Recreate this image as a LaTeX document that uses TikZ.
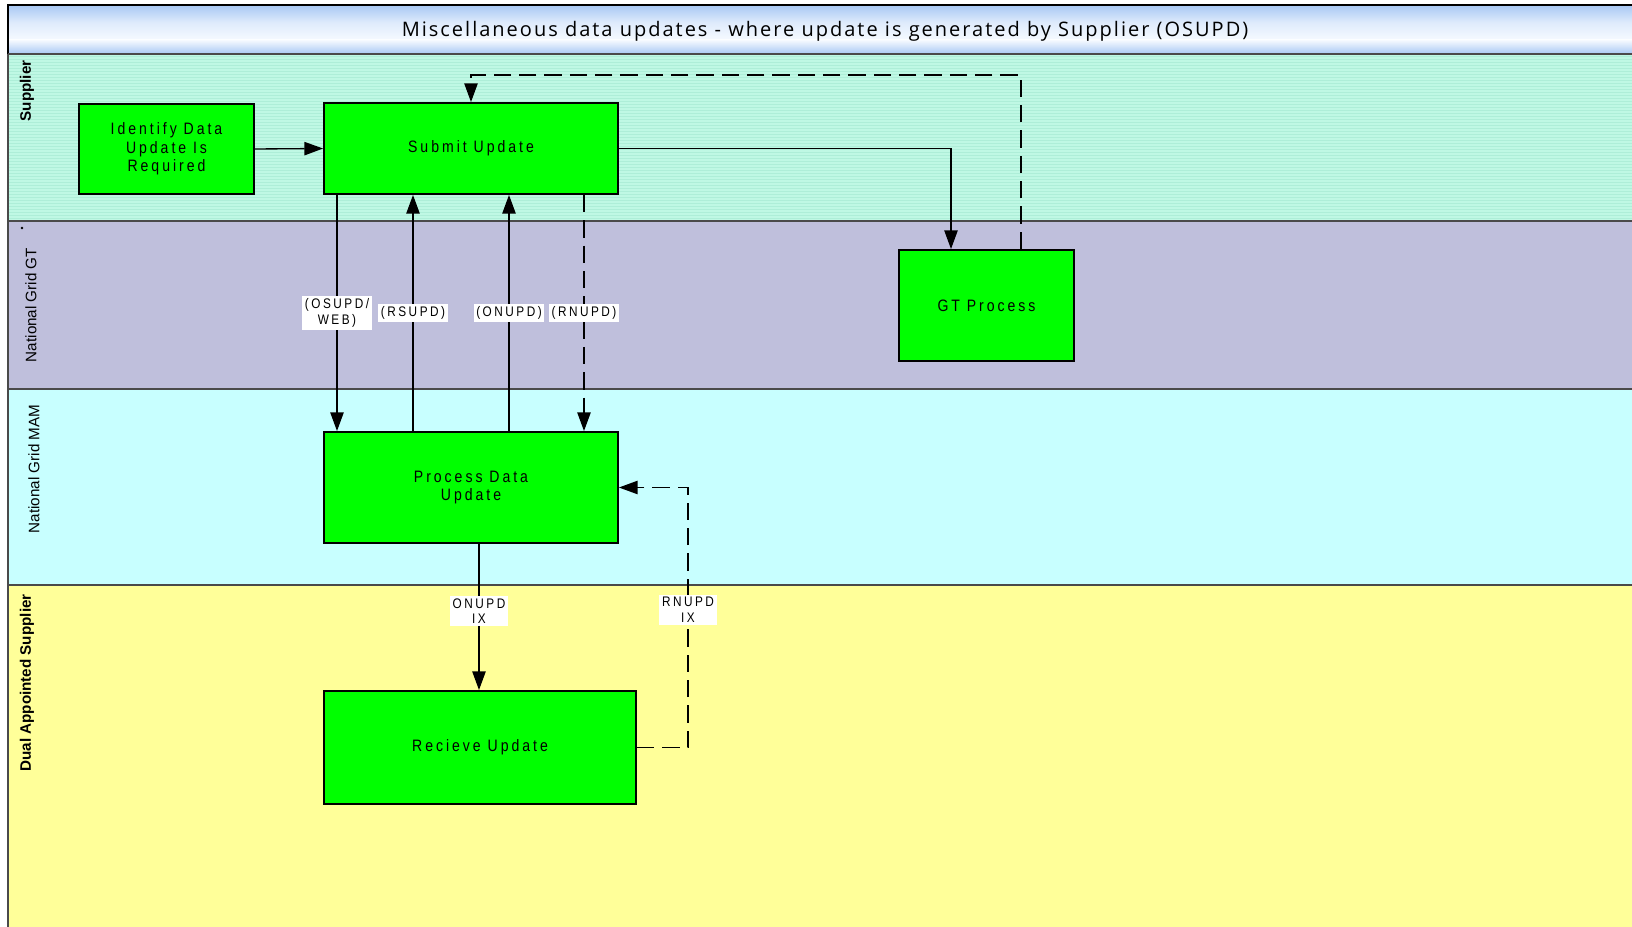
\documentclass[tikz,border=0pt]{standalone}
\usepackage{fontspec}
\setmainfont{Liberation Sans}
\newfontfamily\bxf[LetterSpace=18,FakeStretch=0.85]{Liberation Sans}
\newfontfamily\ttlf[LetterSpace=10]{Open Sans}
\usetikzlibrary{arrows.meta,calc}
\definecolor{supcol}{HTML}{BFF8E4}
\definecolor{supstripe}{HTML}{AEEED8}
\definecolor{gtcol}{HTML}{BFBFDC}
\definecolor{mamcol}{HTML}{C8FFFF}
\definecolor{dualcol}{HTML}{FFFF99}
\definecolor{boxgreen}{HTML}{00FF00}
\definecolor{ttlblue}{HTML}{A8C8F4}
\definecolor{ttllight}{HTML}{F6FAFF}
\definecolor{lanegrey}{HTML}{4A4A4A}
\begin{document}
\begin{tikzpicture}[x=0.75pt,y=-0.75pt,
  procbox/.style={draw=black,line width=1.4pt,fill=boxgreen,inner sep=0pt,align=center,
    font=\bxf\fontsize{12.4pt}{13.8pt}\selectfont},
  conn/.style={line width=1pt,-{Triangle[length=14pt,width=10pt]}},
  dsh/.style={dash pattern=on 13pt off 6pt},
  lbl/.style={fill=white,inner sep=2pt,align=center,font=\bxf\fontsize{10.4pt}{11.4pt}\selectfont},
  lanelbl/.style={rotate=90,font=\fontsize{11.4pt}{13pt}\selectfont},
  sep/.style={draw=lanegrey,line width=0.8pt}]
\useasboundingbox (0,0) rectangle (1632,927);
% lanes
\fill[supcol] (8,54) rectangle (1632,221);
\foreach \yy in {56,59,...,219} \draw[supstripe,line width=0.4pt] (8,\yy) -- (1632,\yy);
\fill[gtcol] (8,221) rectangle (1632,389);
\fill[mamcol] (8,389) rectangle (1632,585);
\fill[dualcol] (8,585) rectangle (1632,927);
\draw[sep] (8,221) -- (1632,221);
\draw[sep] (8,389) -- (1632,389);
\draw[sep] (8,585) -- (1632,585);
\draw[lanegrey,line width=1pt] (8,54) -- (8,927);
% title band
\shade[top color=ttlblue,bottom color=ttllight,middle color=ttllight!70!ttlblue] (8,5) rectangle (1632,40);
\shade[top color=ttllight,bottom color=ttlblue] (8,40) rectangle (1632,54);
\draw[black,line width=1.2pt] (8,54) -- (8,5) -- (1633,5);
\draw[lanegrey,line width=1.2pt] (8,54) -- (1632,54);
\node[font=\ttlf\fontsize{15pt}{17pt}\selectfont] (title) at (825,31.5) {Miscellaneous data updates - where update is generated by Supplier (OSUPD)};
% lane labels
\node[lanelbl,font=\bfseries\fontsize{11.4pt}{13pt}\selectfont] (lsup) at (27,91) {Supplier};
\node[lanelbl] (lgt) at (31,305) {National Grid GT};
\node[lanelbl] (lmam) at (34,469) {National Grid MAM};
\node[lanelbl,font=\bfseries\fontsize{11.4pt}{13pt}\selectfont] (ldual) at (27,683) {Dual Appointed Supplier};
\fill[black] (22,228) circle (1pt);
% boxes
\node[procbox,minimum width={175*0.75pt},minimum height={90*0.75pt}] (identify) at (166.5,149) {Identify Data\\Update Is\\Required};
\node[procbox,minimum width={294*0.75pt},minimum height={91*0.75pt}] (submit) at (471,148.5) {Submit Update};
\node[procbox,minimum width={175*0.75pt},minimum height={111*0.75pt}] (gt) at (986.5,305.5) {GT Process};
\node[procbox,minimum width={294*0.75pt},minimum height={111*0.75pt}] (process) at (471,487.5) {Process Data\\Update};
\node[procbox,minimum width={312*0.75pt},minimum height={113*0.75pt}] (recieve) at (480,747.5) {Recieve Update};
% column coordinates
\coordinate (xa) at (337,0);
\coordinate (xb) at (413,0);
\coordinate (xc) at (509,0);
\coordinate (xd) at (584,0);
\coordinate (xg) at (951,0);
\coordinate (xh) at (1021,0);
\coordinate (yt) at (0,75);
\coordinate (xo) at (479,0);
\coordinate (xr) at (688,0);
% connectors
\draw[conn] (identify.east) -- (submit.west);
\draw[conn] (submit.east) -| (gt.north -| xg);
\draw[conn,dsh] (gt.north -| xh) |- (submit.north |- yt) -- (submit.north);
\draw[conn] (submit.south -| xa) -- node[lbl]{(OSUPD/\\WEB)} (process.north -| xa);
\draw[conn] (process.north -| xb) -- node[lbl]{(RSUPD)} (submit.south -| xb);
\draw[conn] (process.north -| xc) -- node[lbl]{(ONUPD)} (submit.south -| xc);
\draw[conn,dsh] (submit.south -| xd) -- node[lbl]{(RNUPD)} (process.north -| xd);
\draw[conn] (process.south -| xo) -- node[lbl,pos=0.46]{ONUPD\\IX} (recieve.north -| xo);
\draw[conn,dsh] (recieve.east) -| node[lbl,pos=0.765]{RNUPD\\IX} (process.east -| xr) -- (process.east);
\end{tikzpicture}
\end{document}
